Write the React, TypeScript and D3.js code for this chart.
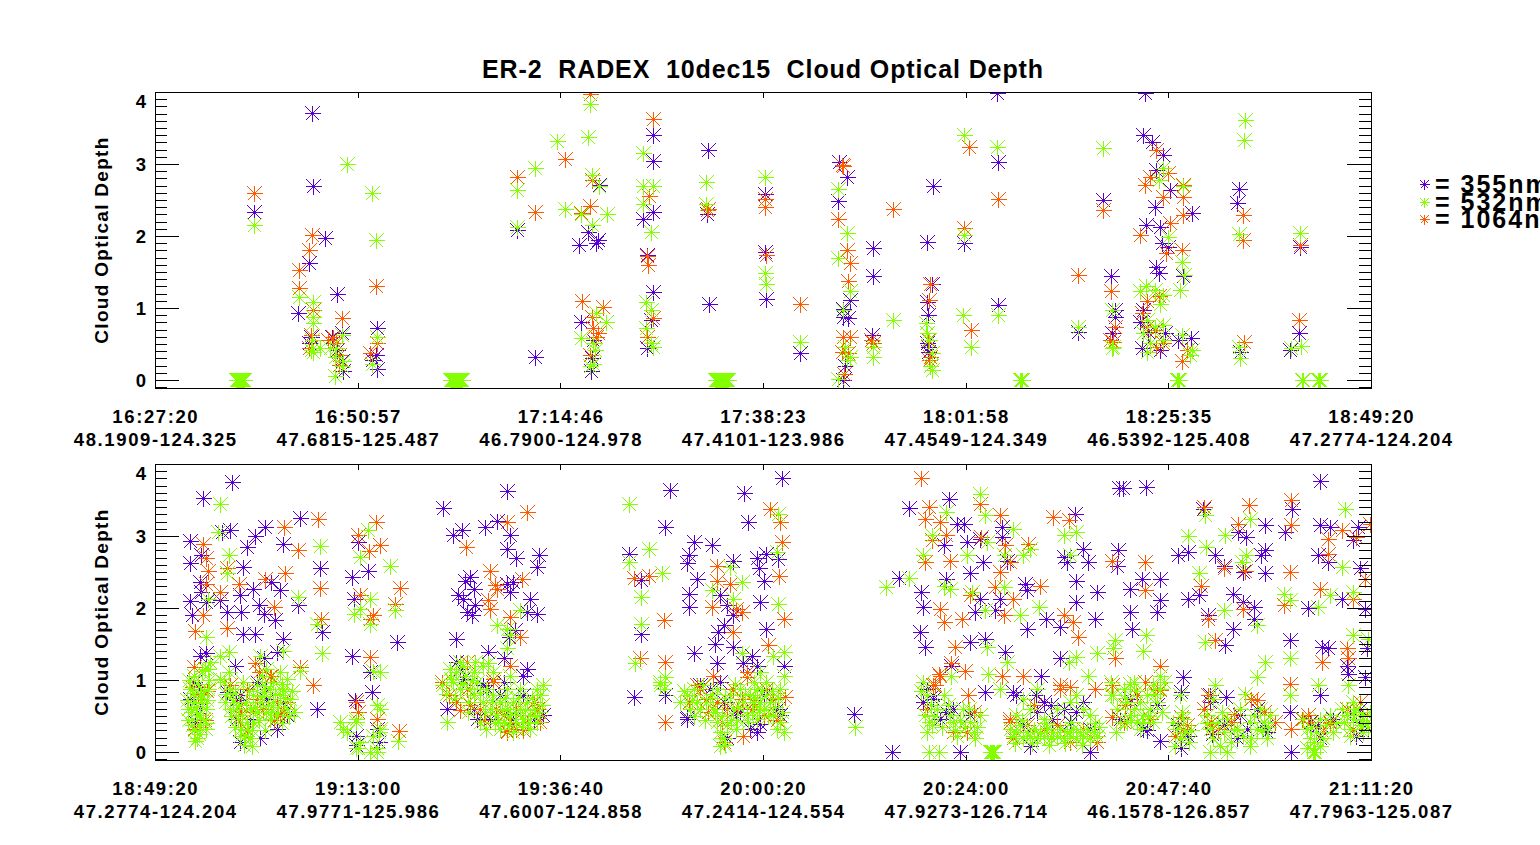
import React from "react";
import * as d3 from "d3";

type Pt = [number, number];

// layout (page pixels)
const WIDTH = 1540;
const HEIGHT = 845;
const PLOT_LEFT = 155;
const PLOT_RIGHT = 1371;
const PLOT_H = 296;
const PANEL_TOPS = [92, 464];
const SPAN_MIN = 142; // each panel covers 142 minutes of flight
const FONT = "'Liberation Sans', Arial, Helvetica, sans-serif";

const TITLE = "ER-2  RADEX  10dec15  Cloud Optical Depth";
const Y_TITLE = "Cloud Optical Depth";
const Y_DOMAIN: [number, number] = [-0.11, 4.0];
const Y_MAJOR = [0, 1, 2, 3, 4];

const P1_TIMES = ["16:27:20", "16:50:57", "17:14:46", "17:38:23", "18:01:58", "18:25:35", "18:49:20"];
const P1_POS = ["48.1909-124.325", "47.6815-125.487", "46.7900-124.978", "47.4101-123.986", "47.4549-124.349", "46.5392-125.408", "47.2774-124.204"];
const P2_TIMES = ["18:49:20", "19:13:00", "19:36:40", "20:00:20", "20:24:00", "20:47:40", "21:11:20"];
const P2_POS = ["47.2774-124.204", "47.9771-125.986", "47.6007-124.858", "47.2414-124.554", "47.9273-126.714", "46.1578-126.857", "47.7963-125.087"];

const WAVELENGTHS = ["355nm", "532nm", "1064nm"];
const COLORS = ["#5a00d2", "#84ff00", "#ff5a00"];

// [minutes since panel start, optical depth]
const P1_355: Pt[] = [
  [11.6,2.33],[18.3,3.71],[18.5,2.7],[19.9,1.97],[18.0,1.62],[16.7,0.93],[18.2,0.6],[18.0,0.51],[21.2,1.19],[21.8,0.65],
  [20.7,0.6],[21.3,0.42],[21.8,0.26],[21.9,0.12],[25.9,0.72],[25.8,0.35],[25.9,0.16],[25.3,0.28],
  [42.3,2.09],[44.4,0.32],[50.6,2.06],[49.5,1.88],[51.5,1.9],[51.7,1.95],[51.9,2.71],[49.8,0.81],[51.1,0.56],[51.0,0.3],[50.9,0.12],
  [58.1,3.4],[58.2,3.04],[57.0,2.23],[58.2,2.34],[57.5,1.74],[58.1,1.22],[57.9,0.84],[57.5,0.44],
  [64.6,3.2],[64.5,2.31],[64.7,1.05],[71.2,2.59],[71.2,1.78],[71.4,1.13],[75.3,0.37],[79.9,3.03],[80.8,2.82],[79.8,2.49],
  [81.2,1.11],[80.3,0.99],[80.3,0.88],[80.9,0.86],[80.6,0.19],[80.3,0.0],[83.9,1.83],[83.8,1.44],[83.7,0.63],[90.8,2.7],
  [90.1,1.92],[90.7,1.34],[90.1,1.09],[90.3,0.9],[90.3,0.46],[90.3,0.39],[90.1,0.51],[94.5,1.9],[98.5,3.03],[98.4,1.04],[98.3,3.98],
  [115.6,3.98],[110.7,2.5],[111.6,1.44],[107.8,0.67],[112.1,0.97],[112.1,0.88],[111.7,0.65],[115.4,3.4],[116.4,3.31],[117.7,3.13],
  [116.9,2.92],[118.5,2.64],[116.8,2.41],[121.1,2.32],[115.7,2.15],[117.4,2.13],[117.6,1.9],[118.3,1.85],[116.9,1.57],[117.2,1.49],
  [120.1,1.44],[115.4,0.97],[115.0,0.81],[116.0,0.67],[117.9,0.65],[115.2,0.44],[117.4,0.42],[121.0,0.59],[119.5,0.56],
  [126.6,2.66],[126.4,2.46],[126.7,0.39],[133.7,1.85],[133.6,0.65],[132.5,0.42],
];

const P1_1064: Pt[] = [
  [11.6,2.6],[18.3,2.02],[18.0,1.8],[16.8,1.53],[16.8,1.28],[18.5,0.97],[18.2,0.63],[18.0,0.44],[21.8,0.86],[20.8,0.6],
  [21.1,0.51],[21.5,0.35],[21.5,0.21],[20.2,0.56],[25.8,1.3],[25.9,0.51],[25.1,0.38],
  [42.3,2.82],[44.4,2.33],[47.9,3.07],[49.7,2.32],[50.8,2.42],[50.8,3.97],[51.0,2.78],[52.8,2.3],[49.9,1.1],[51.0,0.88],
  [51.1,0.72],[51.5,0.6],[50.8,0.35],[52.3,1.02],[51.7,0.66],
  [58.1,3.63],[57.7,2.55],[57.5,1.72],[57.6,1.6],[58.1,0.86],[57.5,0.6],
  [64.5,2.36],[64.6,2.38],[71.2,2.51],[71.2,2.41],[71.3,1.74],[75.3,1.06],[80.3,2.97],[80.2,2.99],[79.8,2.23],[80.8,1.8],
  [81.2,1.63],[80.9,1.37],[80.3,0.6],[81.2,0.6],[80.2,0.39],[80.5,0.09],[80.9,0.37],[83.6,0.56],[83.9,0.51],[86.2,2.37],
  [90.5,1.33],[90.4,1.11],[90.3,0.56],[90.5,0.32],[90.4,0.28],[95.1,3.23],[98.4,2.51],[94.5,2.11],[95.3,0.69],
  [110.7,2.36],[107.8,1.46],[111.6,1.24],[112.1,0.74],[111.9,0.53],[111.5,0.56],[116.9,3.19],[118.3,2.87],[116.2,2.82],
  [115.6,2.71],[120.1,2.71],[117.7,2.54],[120.1,2.54],[120.1,2.29],[118.5,2.18],[115.0,2.01],[119.9,1.81],[118.1,1.77],
  [117.2,1.17],[115.8,1.1],[115.2,0.93],[115.8,0.74],[116.8,0.69],[117.7,0.51],[116.9,0.46],[119.9,0.27],[120.5,0.42],
  [127.1,2.29],[127.1,1.94],[127.2,0.53],[133.7,1.87],[133.6,0.84],
];

const P1_532: Pt[] = [
  [11.6,2.16],[16.8,1.16],[18.4,1.09],[18.4,0.88],[18.4,0.79],[18.3,0.56],[18.2,0.42],[18.4,0.39],[22.4,3.0],[21.8,0.63],
  [21.1,0.44],[21.0,0.32],[21.8,0.19],[21.0,0.05],[22.0,0.26],[20.4,0.44],[19.3,0.44],[25.3,2.6],[25.8,1.94],[25.9,0.6],[25.3,0.23],
  [42.3,2.64],[42.3,2.13],[44.4,2.95],[46.9,3.32],[47.9,2.37],[49.7,2.3],[50.8,3.83],[50.6,3.38],[51.0,2.85],[51.9,2.69],
  [51.0,2.16],[52.8,2.31],[49.7,0.58],[51.2,0.51],[51.4,0.42],[50.8,0.19],[51.2,0.23],[52.7,0.81],[51.5,0.93],
  [57.0,3.15],[57.0,2.69],[58.2,2.69],[57.0,2.44],[57.9,2.06],[57.3,1.09],[57.9,0.97],[57.3,0.72],[57.9,0.51],[58.2,0.46],
  [64.4,2.75],[64.4,2.45],[71.2,2.82],[71.2,1.48],[71.4,1.33],[75.3,0.53],[79.8,2.66],[80.8,2.04],[79.8,1.69],[81.2,1.23],
  [80.3,0.97],[80.6,0.46],[81.2,0.32],[80.8,0.28],[79.8,0.02],[83.9,0.46],[83.8,0.32],[86.2,0.83],[90.0,0.79],[90.2,0.65],
  [90.4,0.56],[90.7,0.37],[90.5,0.19],[90.7,0.14],[94.5,3.4],[98.3,3.23],[94.5,2.01],[94.3,0.9],[95.3,0.46],[98.4,0.9],
  [110.7,3.22],[107.8,0.74],[111.7,0.97],[111.9,0.46],[111.7,0.44],[117.7,2.95],[117.2,2.78],[120.1,2.69],[118.3,1.99],
  [119.9,1.64],[120.2,1.46],[115.0,1.23],[115.7,1.31],[116.8,1.25],[117.7,1.18],[119.7,1.25],[117.4,1.06],[115.8,0.83],
  [115.4,0.65],[116.8,0.74],[117.7,0.76],[116.2,0.51],[115.8,0.39],[119.9,0.63],[121.1,0.42],[120.9,0.35],[117.7,0.56],
  [126.6,2.03],[126.6,0.46],[126.7,0.3],[127.3,3.61],[127.2,3.33],[133.7,2.04],[133.8,0.47],[132.6,0.44],
];

// runs of 532nm retrievals equal to zero (minutes)
const P1_532_ZERO = [
  9.5, 9.6, 9.7, 9.8, 9.9, 10.0, 10.1, 10.2, 10.3, 10.4,
  34.5, 34.6, 34.7, 34.8, 34.9, 35.0, 35.1, 35.2, 35.3, 35.4, 35.5, 35.6, 35.7, 35.8, 35.9,
  65.4, 65.5, 65.6, 65.7, 65.8, 65.9, 66.0, 66.1, 66.2, 66.3, 66.4, 66.5, 66.6, 66.7, 66.8, 66.9,
  101.0, 101.1, 101.2, 119.3, 119.4, 119.5, 119.6, 133.9, 134.0, 134.1, 135.8, 135.9, 136.0,
];

const P2_355: Pt[] = [
  [4.1,2.93],[4.1,2.63],[4.1,2.1],[4.3,1.9],[5.6,3.53],[5.4,2.73],[5.3,2.36],[5.4,2.22],[6.0,2.08],[5.3,1.34],[6.0,1.37],
  [4.5,0.97],[5.3,0.88],[9.0,3.75],[8.8,3.08],[7.8,3.06],[7.6,2.11],[8.4,1.94],[10.1,1.94],[10.3,2.57],[9.3,1.2],[10.7,2.85],
  [11.7,3.0],[12.8,3.13],[11.5,2.27],[12.1,2.04],[12.7,1.92],[10.3,1.64],[11.7,1.64],[15.0,2.89],[16.9,3.25],[14.6,2.25],
  [14.0,1.83],[15.0,1.57],[14.2,1.39],[12.7,1.3],[19.3,2.55],[19.5,1.67],[18.9,0.6],[16.7,2.04],[13.6,2.36],[9.9,2.18],
  [4.1,0.74],[4.7,0.42],[5.3,0.6],[9.9,0.79],[11.1,0.6],[12.3,0.19],[15.0,0.69],[9.5,0.46],[14.2,0.32],[11.9,0.97],[13.0,0.88],
  [9.5,0.72],[11.1,0.46],[13.0,0.74],[15.4,0.51],[9.9,0.14],[8.4,0.83],
  [23.0,2.43],[24.9,2.51],[23.0,1.34],[23.7,2.92],[25.1,1.11],[25.3,0.83],[26.3,1.11],[28.3,1.53],[23.2,2.13],[23.5,0.23],
  [26.1,0.14],[23.4,0.72],[23.5,0.1],[25.9,0.32],
  [33.6,3.39],[34.8,3.01],[35.8,3.08],[38.5,3.13],[39.9,3.21],[41.1,3.63],[41.4,3.01],[41.1,2.82],[42.2,2.69],[44.8,2.73],
  [44.6,2.57],[36.2,2.38],[36.8,2.43],[37.2,2.27],[35.4,2.18],[36.0,2.13],[36.4,1.94],[37.0,1.9],[37.4,2.04],[41.1,2.34],
  [41.8,2.36],[41.5,2.22],[43.8,2.13],[44.6,1.92],[43.4,1.94],[42.0,1.69],[41.3,1.6],[35.2,1.57],[38.9,1.39],[40.7,1.3],
  [43.4,1.16],[35.6,1.16],[34.1,0.6],[38.9,0.88],[40.7,0.97],[37.6,0.46],[43.0,1.06],[35.2,1.25],[36.0,1.02],[37.2,0.6],
  [39.1,0.46],[40.3,0.79],[41.8,0.46],[43.0,0.79],[44.2,0.46],[45.3,0.51],[38.3,0.93],
  [60.1,3.64],[68.8,3.6],[73.2,3.81],[59.5,3.13],[69.3,3.19],[55.4,2.75],[56.8,2.39],[63.0,2.92],[62.4,2.73],[62.1,2.62],
  [65.1,2.88],[63.3,2.4],[62.4,2.2],[62.4,2.01],[56.8,1.64],[67.5,2.66],[70.3,2.69],[71.4,2.75],[72.8,2.68],[70.5,2.55],
  [71.1,2.38],[66.0,2.18],[66.8,2.04],[67.5,1.9],[66.4,1.76],[65.8,1.67],[65.4,1.5],[67.5,1.46],[70.7,2.08],[71.4,1.71],
  [62.9,1.37],[65.6,1.23],[68.7,1.23],[69.7,1.34],[70.3,1.2],[73.4,1.2],[55.9,0.76],[59.6,0.79],[62.1,0.49],[70.7,0.39],
  [73.0,0.51],[68.3,0.56],[69.9,0.97],[66.0,0.97],[63.6,0.93],[62.1,0.46],[64.8,0.88],[66.4,0.69],[67.9,0.51],[69.5,0.32],
  [71.1,0.79],[72.6,0.6],[66.8,0.19],[70.3,0.28],[81.6,0.53],
  [86.1,0.0],[88.1,3.39],[92.7,3.52],[94.5,3.17],[93.6,3.16],[107.4,3.31],[112.6,3.66],[94.8,2.92],[92.1,2.87],[96.3,2.96],
  [98.9,3.13],[98.9,2.99],[95.2,2.48],[99.5,2.66],[96.7,2.64],[92.4,2.41],[89.5,2.22],[89.7,2.01],[86.9,2.42],[96.3,2.13],
  [95.8,1.94],[98.7,2.13],[98.1,1.97],[101.6,2.34],[101.8,2.25],[101.8,1.71],[104.1,1.85],[105.7,1.74],[107.6,2.08],
  [107.6,2.38],[106.5,2.64],[106.1,2.71],[108.4,2.82],[109.0,2.64],[110.0,2.22],[109.8,1.85],[112.5,2.8],[112.3,2.59],
  [89.3,1.67],[89.9,1.46],[95.2,1.53],[96.9,1.57],[99.3,1.39],[93.0,1.2],[103.5,1.06],[105.7,1.3],[96.9,0.83],[100.2,0.83],
  [102.9,0.79],[90.9,0.74],[94.0,0.0],[108.4,0.69],[106.1,0.6],[104.7,0.46],[109.2,0.0],
  [89.7,0.69],[90.9,0.79],[92.4,0.56],[95.2,0.51],[100.6,0.79],[101.4,0.37],[103.0,0.56],[104.6,0.65],[105.3,0.23],
  [106.9,0.42],[107.6,0.56],[109.2,0.32],[102.2,0.09],[103.8,0.69],[90.1,0.88],[91.7,0.46],[93.2,0.6],
  [113.0,3.66],[115.7,3.68],[136.0,3.77],[132.8,3.38],[131.9,3.06],[129.6,3.15],[136.1,3.15],[137.2,3.13],[139.9,2.94],
  [140.5,3.13],[127.4,2.99],[126.5,3.06],[122.4,3.38],[119.5,2.73],[120.6,2.78],[123.8,2.73],[124.8,2.59],[129.2,2.73],
  [129.6,2.8],[127.1,2.5],[129.6,2.48],[135.8,2.73],[137.0,2.64],[140.7,2.55],[113.9,2.27],[115.2,2.41],[117.4,2.41],
  [117.4,2.11],[117.0,1.94],[113.9,1.94],[114.1,1.71],[120.6,2.13],[121.9,2.18],[125.9,2.2],[127.1,2.08],[128.3,2.01],
  [128.3,1.85],[125.9,1.71],[124.9,1.48],[123.0,1.9],[134.7,2.0],[138.6,2.13],[141.3,1.99],[132.5,1.55],[136.3,1.46],
  [137.0,1.44],[141.5,1.44],[139.2,1.2],[139.3,1.09],[141.3,1.04],[120.0,1.04],[119.8,0.83],[123.2,0.79],[125.1,0.76],
  [126.7,0.51],[132.5,0.56],[136.1,0.79],[135.8,0.37],[132.7,0.0],[117.4,0.16],[115.8,0.3],[119.8,0.05],[123.4,0.25],
  [129.6,0.35],[140.7,0.6],
  [113.9,0.74],[115.4,0.32],[117.0,0.65],[112.7,0.46],[119.5,0.37],[120.6,0.23],[123.2,0.69],[124.8,0.37],[126.4,0.19],
  [127.5,0.32],[128.7,0.6],[129.9,0.28],[134.9,0.42],[136.0,0.19],[137.6,0.46],[139.5,0.56],[140.7,0.42],[141.6,0.32],[140.3,0.23],
];

const P2_1064: Pt[] = [
  [5.6,2.89],[6.0,2.69],[6.2,2.52],[6.0,2.34],[5.6,1.9],[4.7,1.68],[7.6,2.22],[8.4,1.72],[8.4,2.55],[9.8,2.34],[15.1,3.13],
  [16.7,2.81],[19.0,3.24],[19.3,2.28],[19.4,1.85],[13.9,2.01],[15.2,2.48],[12.8,2.41],[4.5,1.18],[11.7,1.23],[13.4,1.06],
  [16.9,1.18],[18.5,0.93],[4.5,0.32],[9.9,0.51],[14.2,0.69],[6.0,0.6],[10.7,0.88],[8.8,0.93],[12.1,1.11],[13.6,1.06],
  [14.6,0.51],[9.9,0.42],[11.9,0.74],[15.4,0.69],[5.0,0.8],[5.8,0.45],
  [4.3,0.9],[5.2,0.35],[6.1,0.85],[10.0,0.65],[11.4,0.55],[12.6,0.6],[13.9,0.45],[15.1,0.55],[10.8,0.3],
  [23.7,3.02],[25.8,3.2],[25.0,2.79],[26.3,2.88],[28.6,2.28],[28.0,2.05],[23.9,2.18],[25.1,1.85],[25.5,1.9],[25.1,1.32],
  [23.5,0.69],[23.7,0.56],[25.9,0.46],[28.5,0.29],
  [43.4,3.33],[41.1,3.19],[36.3,2.85],[39.1,2.52],[39.9,2.27],[39.7,2.32],[38.9,2.11],[39.1,1.99],[42.8,2.4],[41.5,1.88],
  [42.6,1.6],[41.5,1.2],[33.5,0.97],[34.3,0.79],[35.6,0.58],[36.4,1.25],[38.7,0.32],[41.1,0.29],[42.2,0.32],[39.5,1.02],
  [35.2,0.69],[38.0,0.6],[39.5,0.97],[40.7,0.51],[42.2,0.6],[43.4,0.42],[44.6,0.6],[45.0,0.42],[36.4,0.88],[41.1,0.28],
  [36.8,0.65],[38.4,0.45],[39.8,0.6],[41.6,0.4],[43.0,0.3],[44.2,0.7],
  [55.9,2.42],[57.7,2.44],[59.4,1.83],[56.6,1.3],[59.6,1.25],[59.5,0.42],[65.6,2.59],[65.6,2.37],[65.0,2.01],[67.1,2.34],
  [67.9,1.99],[68.5,1.94],[67.5,1.67],[71.8,3.38],[73.0,3.19],[73.2,2.92],[72.9,2.45],[73.4,1.85],[71.6,1.48],[65.2,1.06],
  [69.1,1.04],[71.4,0.88],[66.0,0.28],[66.4,0.14],[68.7,0.23],[64.4,0.74],[73.6,0.76],[63.3,0.93],[63.6,0.88],[65.6,0.69],
  [67.5,0.88],[68.5,0.74],[69.1,1.11],[69.7,0.6],[71.1,0.51],[72.2,0.74],[66.8,0.6],
  [62.4,0.7],[64.6,0.55],[66.2,0.42],[68.0,0.6],[70.0,0.7],[72.6,0.45],
  [89.5,3.8],[90.4,3.4],[89.9,3.24],[91.7,3.19],[96.3,3.45],[98.7,3.29],[104.9,3.26],[106.7,3.22],[92.4,3.01],[90.7,2.94],
  [89.9,2.64],[92.8,2.66],[96.5,2.99],[99.3,2.87],[102.0,2.89],[99.9,2.64],[98.7,2.5],[95.2,2.18],[92.1,1.81],[91.7,1.99],
  [94.2,1.85],[98.1,2.29],[99.1,1.9],[100.2,2.13],[103.4,2.31],[106.1,1.9],[107.2,1.81],[107.8,1.6],[111.7,2.66],[112.1,1.3],
  [93.4,1.46],[94.6,1.13],[93.0,1.23],[91.5,1.09],[91.1,0.93],[94.9,0.79],[98.9,1.06],[101.4,1.06],[105.7,0.93],[106.9,0.9],
  [109.8,0.88],[111.7,0.93],[111.7,0.49],[93.2,0.28],[95.6,0.56],[102.2,0.6],[99.9,0.42],
  [90.9,0.93],[91.7,1.06],[90.1,0.6],[93.2,0.42],[94.8,0.28],[100.2,0.19],[101.8,0.37],[102.6,0.65],[103.8,0.32],[105.3,0.37],
  [106.9,0.14],[108.4,0.32],[110.0,0.14],[105.7,0.88],[99.9,0.46],
  [122.5,3.4],[127.7,3.43],[132.7,3.5],[132.7,3.15],[126.5,3.17],[124.9,3.01],[138.6,3.08],[140.3,2.99],[141.9,3.17],
  [137.0,2.96],[137.0,2.75],[124.8,2.55],[127.3,2.52],[132.5,2.5],[122.1,2.31],[115.6,2.64],[115.6,2.25],[127.1,1.99],
  [123.0,1.85],[136.0,2.27],[131.8,2.04],[141.3,2.41],[139.9,2.13],[123.8,1.55],[136.3,1.25],[139.2,1.44],[139.3,1.3],
  [129.6,1.25],[117.4,1.2],[132.5,0.95],[128.7,0.72],[123.0,0.79],[126.0,0.53],[130.8,0.42],[132.7,0.32],[134.7,0.51],
  [137.2,0.42],[115.6,0.97],[117.4,0.86],[113.3,0.65],[123.4,0.32],[120.0,0.32],
  [113.1,0.42],[114.7,0.79],[116.2,0.46],[117.0,0.88],[119.1,0.23],[120.5,0.37],[119.8,0.49],[122.5,0.6],[124.1,0.32],
  [125.6,0.42],[128.0,0.74],[128.7,0.32],[129.5,0.56],[123.3,0.42],[134.0,0.46],[135.0,0.42],[136.4,0.28],[137.2,0.4],
  [139.2,0.6],[139.9,0.32],[141.5,0.51],[140.7,0.69],
];

const P2_532: Pt[] = [
  [7.6,3.45],[7.4,3.06],[8.6,2.73],[8.4,2.48],[6.0,1.6],[6.2,2.13],[16.7,2.15],[19.3,2.86],[18.9,1.78],[19.5,1.37],[16.9,1.13],
  [15.0,1.41],[12.3,1.34],[8.6,1.39],[7.6,1.34],[6.2,1.16],[7.6,1.02],[5.3,0.79],
  [23.9,2.71],[24.9,3.08],[27.4,2.58],[28.0,1.97],[25.1,2.13],[23.2,1.92],[23.9,1.99],[25.1,1.78],[25.5,1.13],[26.3,1.11],
  [26.1,0.28],[28.4,0.16],[22.0,0.32],[23.5,0.42],[25.9,0.65],[23.7,0.05],[25.9,0.0],[21.6,0.42],[22.4,0.28],[23.5,0.46],
  [23.9,0.14],[25.5,0.23],[26.3,0.32],[25.9,0.05],[26.3,0.6],[23.5,0.05],[25.1,0.0],
  [42.6,1.97],[39.9,1.76],[41.1,1.71],[41.5,1.62],[41.1,1.44],[33.5,0.93],[34.1,0.42],[38.9,1.23],[41.5,1.06],
  [4.1,0.88],[4.5,0.69],[3.9,0.6],[4.9,0.51],[4.3,0.37],[5.1,0.25],[4.7,0.16],[5.6,0.46],[6.0,0.6],[5.4,0.79],[6.2,0.88],
  [4.5,1.06],[5.8,1.16],[6.4,1.25],[3.7,0.72],[5.3,0.37],[6.0,0.32],
  [3.8,0.45],[4.2,0.55],[4.4,0.82],[4.6,0.3],[4.8,0.62],[5.0,0.95],[5.2,0.52],[5.5,0.68],[5.7,0.85],[5.9,0.4],[6.1,0.72],
  [6.3,1.0],[4.0,1.0],[4.9,0.2],[5.5,1.12],
  [8.0,0.97],[8.6,1.11],[8.8,0.88],[9.1,0.69],[9.5,0.6],[9.7,0.46],[10.1,0.32],[10.5,0.23],[10.7,0.42],[11.1,0.6],[11.5,0.79],
  [11.9,0.93],[12.3,0.69],[12.7,0.83],[13.0,0.56],[13.4,0.88],[13.8,0.69],[14.2,0.51],[14.6,0.79],[15.0,0.88],[15.4,0.6],
  [15.8,0.74],[11.5,0.42],[9.9,0.23],[11.1,0.19],[8.8,0.6],[8.2,0.69],[12.5,1.06],[13.8,0.97],[14.6,1.11],[13.0,1.16],
  [10.3,0.97],[15.4,1.02],[11.9,0.56],[13.4,0.46],[16.2,0.55],[9.3,0.35],[10.9,0.3],[12.9,0.3],[14.8,0.4],
  [8.3,0.8],[8.9,0.5],[9.4,0.82],[9.8,0.66],[10.2,0.52],[10.6,0.7],[11.0,0.85],[11.3,0.3],[11.7,0.62],[12.1,0.45],
  [12.5,0.78],[12.9,0.92],[13.2,0.65],[13.6,0.55],[14.0,0.8],[14.4,0.62],[14.8,0.95],[15.2,0.75],[15.6,0.5],[16.0,0.85],
  [10.4,0.1],[11.3,0.08],
  [34.4,1.16],[35.2,1.11],[35.6,1.25],[36.2,1.06],[36.8,0.88],[37.2,0.79],[37.6,0.97],[38.3,0.69],[38.7,0.88],[39.1,0.6],
  [39.5,0.79],[39.9,0.51],[40.3,0.69],[40.7,0.42],[41.1,0.6],[41.5,0.51],[41.8,0.69],[42.2,0.42],[42.6,0.6],[43.0,0.46],
  [43.4,0.69],[43.8,0.51],[44.2,0.6],[44.6,0.42],[45.0,0.79],[45.3,0.93],[38.0,0.42],[38.7,0.32],[40.3,0.32],[41.8,0.28],
  [43.8,0.32],[35.6,0.88],[34.8,0.97],[37.2,1.11],[38.3,1.2],[39.5,1.11],[41.1,0.88],[42.6,0.88],[44.6,0.88],[36.5,0.55],
  [40.0,0.45],[44.9,0.55],
  [34.0,0.8],[34.6,1.02],[35.0,0.75],[35.9,0.95],[36.6,0.7],[37.0,1.0],[37.9,0.82],[38.5,0.55],[39.3,0.72],[39.7,0.4],
  [40.5,0.58],[40.9,0.75],[41.3,0.38],[42.0,0.55],[42.4,0.75],[42.8,0.35],[43.2,0.58],[43.6,0.4],[44.0,0.75],[44.4,0.5],
  [45.2,0.65],[36.0,1.2],[37.4,1.25],
  [55.4,3.44],[55.3,2.64],[57.7,2.82],[59.2,2.48],[56.8,2.15],[56.8,1.78],[56.0,1.23],[59.6,1.04],[59.0,0.93],[65.0,2.25],
  [67.1,2.57],[68.5,2.36],[67.5,2.13],[72.8,2.06],[68.5,1.37],[72.2,1.34],[73.5,1.39],[73.5,1.06],[72.8,3.31],[72.6,2.78],[81.7,0.35],
  [59.0,0.97],[59.4,0.88],[62.1,0.79],[62.9,0.88],[63.3,0.69],[62.5,0.6],[64.4,0.69],[65.2,0.6],[65.6,0.42],[66.0,0.28],
  [66.4,0.19],[66.0,0.09],[66.8,0.37],[67.1,0.79],[67.5,0.6],[68.3,0.88],[68.7,0.69],[69.1,0.51],[69.5,0.79],[69.9,0.97],
  [70.3,0.88],[70.7,0.69],[71.1,0.6],[71.4,0.79],[71.8,0.69],[72.2,0.51],[72.6,0.32],[73.0,0.42],[73.4,0.28],[70.3,0.46],
  [65.6,0.88],[64.0,0.93],[71.4,0.97],[70.7,1.11],[73.0,0.88],[67.9,0.32],[66.2,0.5],[68.0,0.45],[69.8,0.7],[64.8,0.75],
  [61.3,0.7],[63.0,0.5],
  [61.8,0.85],[62.7,0.72],[63.7,0.6],[64.2,0.45],[65.0,0.8],[65.4,0.55],[66.6,0.75],[67.3,0.45],[67.7,0.95],[68.1,0.62],
  [68.9,0.8],[69.3,0.42],[69.7,0.55],[70.1,0.75],[70.5,0.58],[70.9,0.85],[71.6,0.5],[72.0,0.85],[72.4,0.62],[72.8,0.75],
  [73.2,0.55],[66.6,0.1],[66.2,0.2],
  [85.4,2.29],[88.1,2.42],[96.3,3.59],[96.9,3.29],[92.4,3.33],[90.7,3.01],[89.7,2.73],[94.8,2.73],[97.1,2.92],[100.2,3.1],
  [99.1,2.73],[101.4,2.73],[102.2,2.82],[106.1,3.01],[107.6,3.06],[106.9,2.73],[92.1,2.31],[92.8,2.27],[95.4,2.22],
  [96.9,1.97],[99.1,2.29],[101.0,1.9],[103.2,2.01],[97.1,1.46],[99.5,1.25],[93.0,1.06],[97.3,1.09],[98.7,0.88],[106.7,1.25],
  [107.6,1.32],[110.0,1.37],[112.1,1.55],[111.9,1.44],[109.0,1.06],[111.6,0.79],[90.7,0.37],[90.4,0.0],[91.5,0.0],
  [89.7,0.97],[90.1,0.79],[89.9,0.51],[90.4,0.42],[90.1,0.28],[91.3,0.6],[92.1,0.79],[92.8,0.51],[93.2,0.42],[93.6,0.23],
  [94.4,0.6],[95.2,0.42],[95.6,0.28],[96.3,0.51],[95.8,0.19],
  [89.5,0.85],[90.6,0.65],[91.0,0.5],[91.9,0.35],[92.6,0.65],[93.4,0.3],[94.0,0.45],[94.6,0.35],[95.0,0.6],[96.0,0.35],
  [99.9,0.32],[100.2,0.23],[100.6,0.28],[101.0,0.37],[101.4,0.19],[101.8,0.28],[102.2,0.23],[102.6,0.32],[103.0,0.19],
  [103.4,0.28],[103.8,0.23],[104.2,0.32],[104.6,0.19],[104.9,0.28],[105.3,0.23],[105.7,0.32],[106.1,0.19],[106.5,0.28],
  [106.9,0.23],[107.2,0.32],[107.6,0.19],[108.0,0.28],[108.4,0.23],[108.8,0.32],[109.2,0.19],[109.6,0.28],[110.0,0.23],
  [100.6,0.51],[102.2,0.6],[103.8,0.46],[105.3,0.6],[106.9,0.69],[107.6,0.79],[108.4,0.6],[109.2,0.51],[103.0,0.88],
  [101.4,0.74],[100.4,0.12],[102.4,0.12],[104.4,0.1],[106.3,0.12],[108.2,0.1],[110.2,0.35],[101.2,0.45],[104.0,0.4],
  [107.0,0.42],[109.8,0.4],[111.6,0.97],[111.9,0.79],[112.3,0.6],[112.7,0.42],[112.2,0.28],
  [139.0,3.38],[120.6,3.0],[122.6,3.29],[122.7,2.85],[124.9,3.02],[127.9,3.24],[127.4,2.73],[126.9,2.64],[121.9,2.48],
  [128.7,1.76],[124.8,1.97],[122.6,1.53],[115.7,1.62],[115.4,1.41],[131.8,2.2],[132.5,2.11],[135.8,2.01],[137.2,2.18],
  [138.6,2.57],[139.9,2.22],[139.9,1.62],[141.7,1.57],[129.6,1.25],[128.7,1.04],[132.5,1.3],[135.8,0.93],[139.3,0.93],
  [132.5,0.79],[113.9,0.95],[117.4,1.06],[119.7,0.79],[123.8,0.93],[127.3,0.81],
  [113.1,0.88],[113.5,0.69],[113.9,0.51],[114.3,0.6],[114.7,0.42],[115.0,0.69],[115.4,0.51],[115.8,0.79],[116.2,0.6],
  [116.6,0.42],[117.0,0.69],[117.4,0.88],[117.8,0.97],[113.5,0.42],[115.0,0.32],[116.6,0.93],[114.3,0.97],
  [113.3,0.75],[114.0,0.45],[114.5,0.85],[115.2,0.4],[116.0,0.5],[116.8,0.8],[117.6,0.55],
  [118.9,0.42],[119.3,0.32],[119.7,0.19],[120.1,0.46],[120.3,0.28],[120.7,0.14],[119.1,0.09],[119.9,0.56],[121.0,0.3],
  [122.8,0.51],[123.2,0.32],[123.6,0.19],[124.1,0.42],[124.4,0.09],[124.8,0.28],[125.2,0.46],[125.6,0.14],[126.4,0.32],
  [127.1,0.23],[127.9,0.42],[128.3,0.51],[128.7,0.32],[129.0,0.6],[129.5,0.42],[129.8,0.19],[130.2,0.51],[123.2,0.0],
  [125.2,0.0],[127.9,0.09],[126.7,0.6],[123.6,0.74],[122.9,0.4],[124.6,0.55],[126.0,0.3],[128.0,0.2],[129.3,0.3],[130.0,0.35],
  [134.1,0.46],[134.5,0.32],[134.9,0.19],[135.3,0.14],[135.6,0.28],[136.0,0.46],[136.8,0.37],[137.6,0.28],[134.5,0.05],
  [136.0,0.09],[137.2,0.51],[135.0,0.35],[136.4,0.2],[137.9,0.4],
  [138.8,0.42],[139.2,0.51],[139.5,0.32],[139.9,0.46],[140.3,0.6],[140.7,0.37],[141.1,0.51],[141.5,0.42],[141.9,0.56],
  [139.5,0.23],[141.1,0.28],[139.9,0.69],[140.0,0.55],[140.9,0.45],[141.7,0.35],[138.6,0.6],
];

const P2_532_ZERO = [97.5, 97.6, 97.7, 97.8, 97.9, 98.0, 135.2, 135.3, 135.4, 135.5];

const STAR = "M-8,0H8M0,-8V8M-7,-7L7,7M-7,7L7,-7";
const STAR_SMALL = "M-5,0H5M0,-5V5M-4,-4L4,4M-4,4L4,-4";

type PanelProps = {
  idx: number;
  top: number;
  times: string[];
  pos: string[];
  s355: Pt[];
  s532: Pt[];
  s1064: Pt[];
  zeros: number[];
};

function Panel({ idx, top, times, pos, s355, s532, s1064, zeros }: PanelProps) {
  const x = d3.scaleLinear().domain([0, SPAN_MIN]).range([PLOT_LEFT, PLOT_RIGHT]);
  const y = d3.scaleLinear().domain(Y_DOMAIN).range([top + PLOT_H, top]);
  const xTicks = d3.range(times.length).map((i) => (i * SPAN_MIN) / (times.length - 1));
  const yMinor = d3.range(-1, 41).map((i) => i / 10);
  const green: Pt[] = [...s532, ...zeros.map((t) => [t, 0] as Pt)];
  // purple first, then orange, green on top
  const layers: [Pt[], string][] = [
    [s355, COLORS[0]],
    [s1064, COLORS[2]],
    [green, COLORS[1]],
  ];
  const clipId = `plotclip${idx}`;
  const snap = (v: number) => Math.round(v) + 0.5;

  return (
    <g>
      <defs>
        <clipPath id={clipId}>
          <rect x={PLOT_LEFT} y={top} width={PLOT_RIGHT - PLOT_LEFT + 1} height={PLOT_H + 1} />
        </clipPath>
      </defs>

      <g clipPath={`url(#${clipId})`} shapeRendering="crispEdges">
        {layers.map(([pts, color], li) => (
          <g key={li} stroke={color} fill={color} strokeWidth={1}>
            {pts.map(([t, v], i) => (
              <g key={i} transform={`translate(${snap(x(t))},${snap(y(v))})`}>
                <path d={STAR} fill="none" />
                <rect x={-1.5} y={-1.5} width={3} height={3} stroke="none" />
              </g>
            ))}
          </g>
        ))}
      </g>

      <g stroke="#000" strokeWidth={1} fill="none" shapeRendering="crispEdges">
        <rect x={PLOT_LEFT + 0.5} y={top + 0.5} width={PLOT_RIGHT - PLOT_LEFT} height={PLOT_H} />
        {yMinor.map((v) => {
          const len = Math.abs(v - Math.round(v)) < 1e-6 ? 24 : 12;
          const yy = snap(y(v));
          return (
            <g key={v}>
              <line x1={PLOT_LEFT} x2={PLOT_LEFT + len} y1={yy} y2={yy} />
              <line x1={PLOT_RIGHT - len} x2={PLOT_RIGHT + 1} y1={yy} y2={yy} />
            </g>
          );
        })}
        {xTicks.map((t) => {
          const xx = snap(x(t));
          return (
            <g key={t}>
              <line x1={xx} x2={xx} y1={top} y2={top + 6} />
              <line x1={xx} x2={xx} y1={top + PLOT_H - 5} y2={top + PLOT_H + 1} />
            </g>
          );
        })}
      </g>

      <g fontFamily={FONT} fontWeight="bold" fill="#000">
        {Y_MAJOR.map((v) => (
          <text
            key={v}
            x={146}
            y={Math.max(y(v), top + 9.5) + 6.7}
            textAnchor="end"
            fontSize={18.5}
          >
            {v}
          </text>
        ))}
        {xTicks.map((t, i) => (
          <g key={t}>
            <text x={x(t) + 0.8} y={top + 331} textAnchor="middle" fontSize={18.5} letterSpacing={1.6}>
              {times[i]}
            </text>
            <text x={x(t) + 0.8} y={top + 354} textAnchor="middle" fontSize={18.5} letterSpacing={1.6}>
              {pos[i]}
            </text>
          </g>
        ))}
        <text
          transform={`translate(108,${top + PLOT_H / 2}) rotate(-90)`}
          textAnchor="middle"
          fontSize={19}
          letterSpacing={1.3}
        >
          {Y_TITLE}
        </text>
      </g>
    </g>
  );
}

export default function App() {
  const legendY = [184, 201.5, 219];
  const legendColors = [COLORS[0], COLORS[1], COLORS[2]];
  return (
    <svg
      width={WIDTH}
      height={HEIGHT}
      style={{ position: "absolute", left: 0, top: 0, background: "#fff" }}
    >
      <rect width={WIDTH} height={HEIGHT} fill="#fff" />
      <text
        x={763}
        y={78}
        textAnchor="middle"
        fontFamily={FONT}
        fontWeight="bold"
        fontSize={25}
        letterSpacing={0.9}
        style={{ whiteSpace: "pre" }}
      >
        {TITLE}
      </text>
      <Panel idx={0} top={PANEL_TOPS[0]} times={P1_TIMES} pos={P1_POS} s355={P1_355} s532={P1_532} s1064={P1_1064} zeros={P1_532_ZERO} />
      <Panel idx={1} top={PANEL_TOPS[1]} times={P2_TIMES} pos={P2_POS} s355={P2_355} s532={P2_532} s1064={P2_1064} zeros={P2_532_ZERO} />
      <g fontFamily={FONT} fontWeight="bold" fontSize={25} letterSpacing={2}>
        {WAVELENGTHS.map((w, i) => (
          <g key={w}>
            <g transform={`translate(1424.5,${Math.round(legendY[i]) + 0.5})`} stroke={legendColors[i]} shapeRendering="crispEdges">
              <path d={STAR_SMALL} fill="none" />
            </g>
            <text x={1435} y={legendY[i] + 9} fill="#000" style={{ whiteSpace: "pre" }}>
              {`= ${w}`}
            </text>
          </g>
        ))}
      </g>
    </svg>
  );
}
